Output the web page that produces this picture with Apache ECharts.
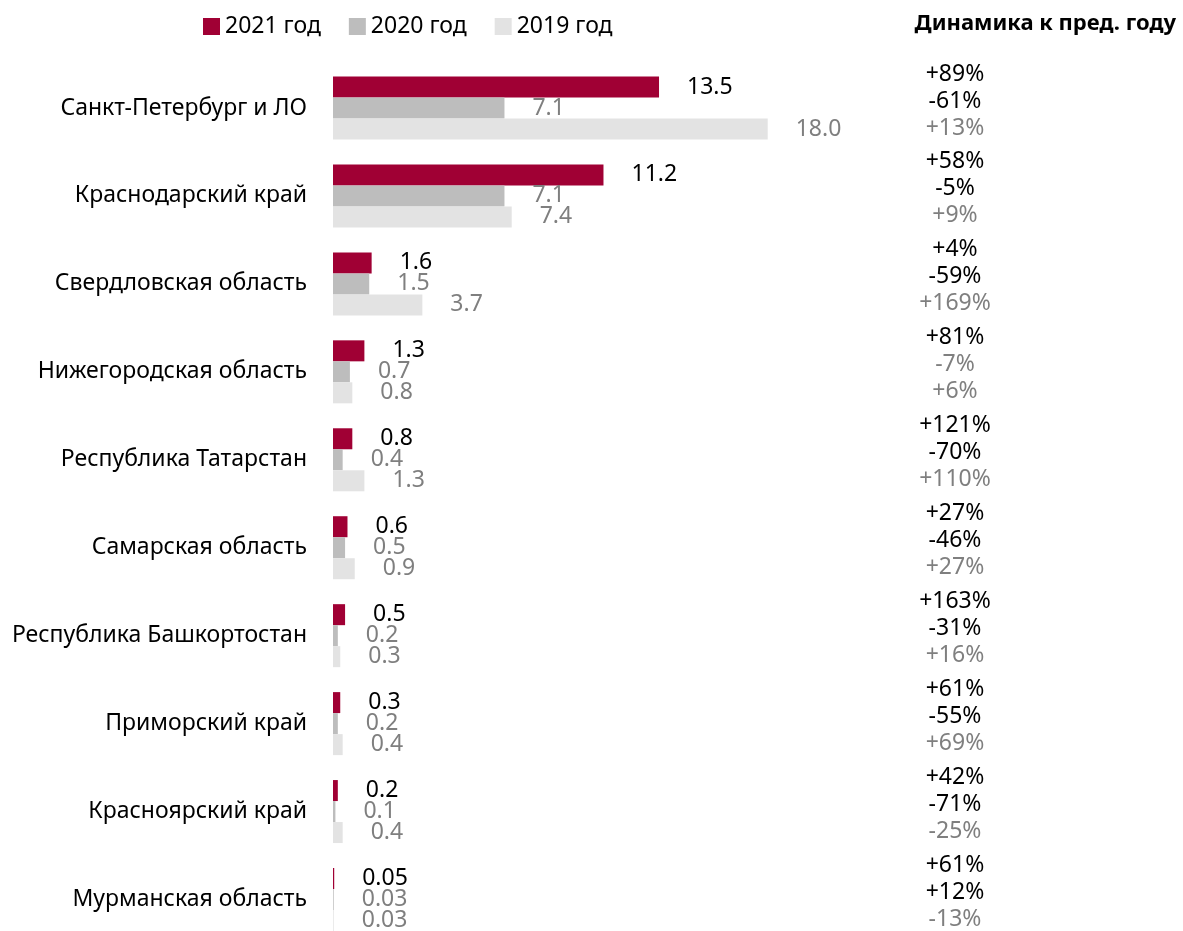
<!DOCTYPE html>
<html>
<head>
<meta charset="utf-8">
<script src="https://cdn.jsdelivr.net/npm/echarts@6/dist/echarts.min.js"></script>
<style>
  html, body { margin: 0; padding: 0; background: #fff; }
  #chart { width: 1183px; height: 931px; }
</style>
</head>
<body>
<div id="chart"></div>
<script>
var regions = ['Санкт-Петербург и ЛО', 'Краснодарский край', 'Свердловская область', 'Нижегородская область',
  'Республика Татарстан', 'Самарская область', 'Республика Башкортостан', 'Приморский край',
  'Красноярский край', 'Мурманская область'];
var y2021 = [13.5, 11.2, 1.6, 1.3, 0.8, 0.6, 0.5, 0.3, 0.2, 0.05];
var y2020 = [7.1, 7.1, 1.5, 0.7, 0.4, 0.5, 0.2, 0.2, 0.1, 0.03];
var y2019 = [18.0, 7.4, 3.7, 0.8, 1.3, 0.9, 0.3, 0.4, 0.4, 0.03];
var dyn2021 = ['+89%', '+58%', '+4%', '+81%', '+121%', '+27%', '+163%', '+61%', '+42%', '+61%'];
var dyn2020 = ['-61%', '-5%', '-59%', '-7%', '-70%', '-46%', '-31%', '-55%', '-71%', '+12%'];
var dyn2019 = ['+13%', '+9%', '+169%', '+6%', '+110%', '+27%', '+16%', '+69%', '-25%', '-13%'];

var font = 'Noto Sans';
// в исходнике -7% у Нижегородской серым
var grayMid = [3];

function fmt(v) {
  return v < 0.1 ? v.toFixed(2) : v.toFixed(1);
}

function barSeries(name, data, color, labelColor) {
  return {
    name: name,
    type: 'bar',
    data: data,
    barWidth: 21,
    barGap: '0%',
    itemStyle: { color: color },
    label: {
      show: true,
      position: 'right',
      distance: 28,
      color: labelColor,
      fontFamily: font,
      fontSize: 23,
      formatter: function (p) { return fmt(p.value); }
    }
  };
}

var chart = echarts.init(document.getElementById('chart'));
chart.setOption({
  animation: false,
  title: {
    text: 'Динамика к пред. году',
    right: 2,
    top: 8,
    textStyle: { fontFamily: font, fontSize: 22, fontWeight: 'bold', color: '#000' }
  },
  legend: {
    left: 198,
    top: 10,
    itemWidth: 17,
    itemHeight: 17,
    itemGap: 28,
    icon: 'rect',
    textStyle: { fontFamily: font, fontSize: 23, color: '#000' },
    data: ['2021 год', '2020 год', '2019 год']
  },
  grid: { left: 333, top: 108, width: 483, height: 792, containLabel: false },
  xAxis: {
    type: 'value',
    min: 0,
    max: 20,
    show: false
  },
  yAxis: [{
    type: 'category',
    data: regions,
    inverse: true,
    boundaryGap: false,
    axisLine: { show: false },
    axisTick: { show: false },
    axisLabel: { margin: 26, color: '#000', fontFamily: font, fontSize: 23 }
  }, {
    type: 'category',
    data: regions,
    inverse: true,
    boundaryGap: false,
    position: 'right',
    axisLine: { show: false },
    axisTick: { show: false },
    axisLabel: {
      margin: 139,
      align: 'center',
      padding: [0, 0, 14, 0],
      formatter: function (val, i) {
        var mid = grayMid.indexOf(i) >= 0 ? 'g' : 'b';
        return '{b|' + dyn2021[i] + '}\n{' + mid + '|' + dyn2020[i] + '}\n{g|' + dyn2019[i] + '}';
      },
      rich: {
        b: { color: '#000', fontFamily: font, fontSize: 23, lineHeight: 27 },
        g: { color: '#7f7f7f', fontFamily: font, fontSize: 23, lineHeight: 27 }
      }
    }
  }],
  series: [
    barSeries('2021 год', y2021, '#A00034', '#000'),
    barSeries('2020 год', y2020, '#BDBDBD', '#7f7f7f'),
    barSeries('2019 год', y2019, '#E3E3E3', '#7f7f7f')
  ]
});
</script>
</body>
</html>
